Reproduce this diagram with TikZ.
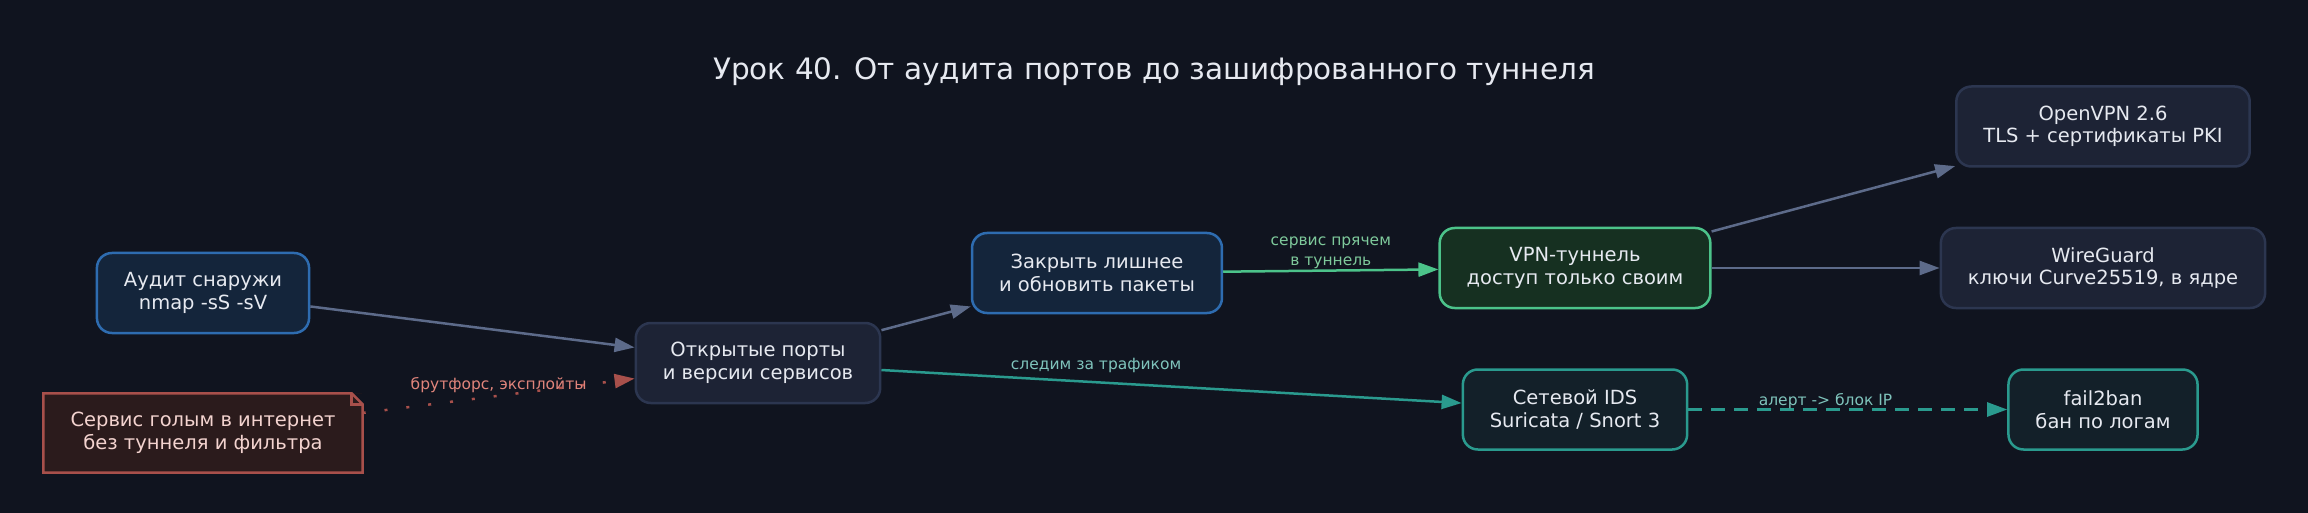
\documentclass[tikz,border=0pt]{standalone}
\usepackage{fontspec}
\setmainfont{DejaVu Sans}
\usetikzlibrary{positioning,arrows.meta}
\definecolor{bgcol}{HTML}{10141F}
\definecolor{txtcol}{HTML}{E6E9F0}
\definecolor{bluefill}{HTML}{14253B}
\definecolor{blueline}{HTML}{2E6CB0}
\definecolor{greyfill}{HTML}{1D2335}
\definecolor{greyline}{HTML}{2C3650}
\definecolor{greenfill}{HTML}{163021}
\definecolor{greenline}{HTML}{4CC38A}
\definecolor{tealfill}{HTML}{132029}
\definecolor{tealline}{HTML}{2A9A8E}
\definecolor{notefill}{HTML}{2B1B1C}
\definecolor{noteline}{HTML}{A8504B}
\definecolor{notetxt}{HTML}{F3D3CF}
\definecolor{slate}{HTML}{5D6B8A}
\definecolor{greenlbl}{HTML}{7EC99B}
\definecolor{teallbl}{HTML}{7FC4BC}
\definecolor{redlbl}{HTML}{E0847B}
\newcommand\boxfont{\fontsize{19.5}{22.5}\selectfont}
\newcommand\edgefont{\fontsize{15.5}{19.5}\selectfont}
\newcommand\titlefont{\fontsize{29.5}{34}\selectfont}
\tikzstyle{box}=[rectangle,rounded corners=15pt,line width=2.5pt,text=txtcol,
minimum height=80pt,inner xsep=27pt,align=center,font=\boxfont]
\tikzstyle{bluebox}=[box,draw=blueline,fill=bluefill]
\tikzstyle{greybox}=[box,draw=greyline,fill=greyfill]
\tikzstyle{greenbox}=[box,draw=greenline,fill=greenfill]
\tikzstyle{tealbox}=[box,draw=tealline,fill=tealfill]
\tikzstyle{notebox}=[rectangle,fill=notefill,text=notetxt,
minimum height=79pt,inner xsep=27pt,align=center,font=\boxfont]
\tikzstyle{plain}=[draw=slate,line width=2.5pt]
\tikzstyle{tunnel}=[draw=greenline,line width=2.5pt]
\tikzstyle{watch}=[draw=tealline,line width=2.5pt]
\tikzstyle{alert}=[draw=tealline,line width=2.5pt,dash pattern=on 14pt off 9pt]
\tikzstyle{attack}=[draw=noteline,line width=2.5pt,dash pattern=on 3pt off 19pt]
\begin{document}
\begin{tikzpicture}[x=1pt,y=-1pt,>={Triangle[length=20pt,width=14pt]}]
            \fill[bgcol] (0,0) rectangle (2308,513);
            \useasboundingbox (0,0) rectangle (2308,513);

            \node[font=\titlefont,text=txtcol] (title) at (1154,72) {Урок 40. От аудита портов до зашифрованного туннеля};

            % AUDIT PART

            \node[bluebox] (audit) at (203,293) {Аудит снаружи\\nmap -sS -sV};
            \node[notebox,below=59pt of audit] (note) {Сервис голым в интернет\\без туннеля и фильтра};
            \node[greybox,node distance=555pt,right of=audit,yshift=-70pt] (open) {Открытые порты\\и версии сервисов};
            \node[bluebox,node distance=339pt,right of=open,yshift=90pt] (close) {Закрыть лишнее\\и обновить пакеты};

            % note corner
            \fill[bgcol] ([xshift=-11pt]note.north east) -- (note.north east) -- ([yshift=-11pt]note.north east) -- cycle;
            \draw[noteline,line width=2.5pt] (note.south west) -- (note.north west) -- ([xshift=-11pt]note.north east)
                -- ([yshift=-11pt]note.north east) -- (note.south east) -- cycle;
            \draw[noteline,line width=2.5pt] ([xshift=-11pt]note.north east) |- ([yshift=-11pt]note.north east);

            % TUNNEL PART

            \node[greenbox,node distance=478pt,right of=close,yshift=5pt] (vpn) {VPN-туннель\\доступ только своим};
            \node[tealbox,below=59pt of vpn] (ids) {Сетевой IDS\\Suricata / Snort 3};
            \node[greybox,node distance=528pt,right of=vpn] (wg) {WireGuard\\ключи Curve25519, в ядре};
            \node[greybox,above=59pt of wg] (ovpn) {OpenVPN 2.6\\TLS + сертификаты PKI};
            \node[tealbox,below=59pt of wg] (ban) {fail2ban\\бан по логам};

            \path[->] (audit) edge[plain] (open);
            \path[->] (note) edge[attack] node[pos=0.5,above=2pt,inner sep=0pt,font=\edgefont,text=redlbl] {брутфорс, эксплойты} (open);
            \path[->] (open) edge[plain] (close);
            \path[->] (open) edge[watch] node[pos=0.37,above=8pt,inner sep=0pt,font=\edgefont,text=teallbl] {следим за трафиком} (ids);
            \path[->] (close) edge[tunnel] node[pos=0.5,above=1pt,inner sep=0pt,font=\edgefont,text=greenlbl,align=center] {сервис прячем\\в туннель} (vpn);
            \path[->] (vpn) edge[plain] (ovpn);
            \path[->] (vpn) edge[plain] (wg);
            \path[->] (ids) edge[alert] node[pos=0.43,above=0pt,inner sep=0pt,font=\edgefont,text=teallbl] {алерт -> блок IP} (ban);

\end{tikzpicture}
\end{document}
